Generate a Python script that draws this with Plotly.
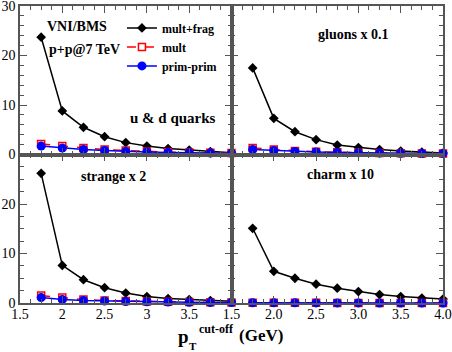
import plotly.graph_objects as go
from plotly.subplots import make_subplots

pt = [1.75, 2.0, 2.25, 2.5, 2.75, 3.0, 3.25, 3.5, 3.75, 4.0]

ud_multfrag = [23.7, 8.8, 5.5, 3.6, 2.4, 1.7, 1.2, 0.9, 0.6, 0.35]
ud_mult = [2.1, 1.7, 1.3, 1.0, 0.8, 0.6, 0.5, 0.4, 0.35, 0.3]
ud_prim = [1.7, 1.3, 1.0, 0.8, 0.6, 0.5, 0.4, 0.35, 0.3, 0.25]

gl_multfrag = [17.5, 7.3, 4.6, 3.0, 1.9, 1.4, 1.0, 0.7, 0.5, 0.3]
gl_mult = [1.3, 1.0, 0.7, 0.55, 0.45, 0.35, 0.3, 0.25, 0.2, 0.2]
gl_prim = [1.0, 0.8, 0.6, 0.5, 0.4, 0.35, 0.3, 0.25, 0.2, 0.2]

st_multfrag = [26.2, 7.6, 4.7, 3.1, 2.0, 1.3, 0.9, 0.7, 0.5, 0.35]
st_mult = [1.5, 1.1, 0.7, 0.5, 0.4, 0.3, 0.25, 0.2, 0.15, 0.1]
st_prim = [1.1, 0.7, 0.5, 0.4, 0.3, 0.25, 0.2, 0.15, 0.1, 0.1]

ch_multfrag = [15.1, 6.4, 5.0, 3.8, 3.0, 2.3, 1.7, 1.3, 1.0, 0.8]
ch_mult = [0.05, 0.04, 0.03, 0.03, 0.02, 0.02, 0.02, 0.01, 0.01, 0.01]
ch_prim = [0.04, 0.03, 0.03, 0.02, 0.02, 0.02, 0.01, 0.01, 0.01, 0.01]

panel_labels = ["u & d quarks", "gluons x 0.1", "strange x 2", "charm x 10"]
series_names = ["mult+frag", "mult", "prim-prim"]

left_xticks = [1.5, 2.0, 2.5, 3.0, 3.5]
left_xticktext = ["1.5", "2", "2.5", "3", "3.5"]
right_xticks = [1.5, 2.0, 2.5, 3.0, 3.5, 4.0]
right_xticktext = ["1.5", "2.0", "2.5", "3.0", "3.5", "4.0"]
top_yticks = [0, 10, 20, 30]
bottom_yticks = [0, 10, 20]

SERIF = "Liberation Serif, Times New Roman, serif"

fig = make_subplots(rows=2, cols=2, horizontal_spacing=0, vertical_spacing=0)

panels = [
    (1, 1, ud_multfrag, ud_mult, ud_prim),
    (1, 2, gl_multfrag, gl_mult, gl_prim),
    (2, 1, st_multfrag, st_mult, st_prim),
    (2, 2, ch_multfrag, ch_mult, ch_prim),
]

for i, (r, c, mf, m, pp) in enumerate(panels):
    show = (i == 0)
    fig.add_trace(go.Scatter(x=pt, y=mf, mode="lines+markers", name="<b>" + series_names[0] + "</b>",
                             line=dict(color="black", width=1.5),
                             marker=dict(symbol="diamond", size=7.5, color="black"),
                             showlegend=show, cliponaxis=False), row=r, col=c)
    fig.add_trace(go.Scatter(x=pt, y=m, mode="lines+markers", name="<b>" + series_names[1] + "</b>",
                             line=dict(color="red", width=1.5, dash="dash"),
                             marker=dict(symbol="square-open", size=7, color="red", line=dict(width=1.5)),
                             showlegend=show, cliponaxis=False), row=r, col=c)
    fig.add_trace(go.Scatter(x=pt, y=pp, mode="lines+markers", name="<b>" + series_names[2] + "</b>",
                             line=dict(color="blue", width=1.5),
                             marker=dict(symbol="circle", size=9, color="blue"),
                             showlegend=show, cliponaxis=False), row=r, col=c)

axis_common = dict(showgrid=False, zeroline=False, showline=True, linecolor="#555", linewidth=1.5,
                   mirror="allticks", ticks="inside", ticklen=7, tickcolor="#555", tickwidth=1,
                   automargin=False, ticklabeloverflow="allow",
                   tickfont=dict(family=SERIF, size=14, color="black"))

for r in (1, 2):
    for c in (1, 2):
        xa = dict(axis_common, range=[1.5, 4.0],
                  minor=dict(ticks="inside", ticklen=4, dtick=0.125, tick0=1.5, tickcolor="#555"))
        if r == 2:
            if c == 1:
                xa.update(tickmode="array", tickvals=left_xticks, ticktext=left_xticktext, showticklabels=True)
            else:
                xa.update(tickmode="array", tickvals=right_xticks, ticktext=right_xticktext, showticklabels=True)
            xa.update(ticklabelstandoff=-3)
        else:
            xa.update(tickmode="array", tickvals=right_xticks, showticklabels=False)
        fig.update_xaxes(xa, row=r, col=c)
        ya = dict(axis_common, range=[0, 30], tickmode="array",
                  tickvals=(top_yticks if r == 1 else bottom_yticks),
                  minor=dict(ticks="inside", ticklen=4, dtick=(2 if r == 1 else 2.5), tick0=0, tickcolor="#555"),
                  showticklabels=(c == 1))
        fig.update_yaxes(ya, row=r, col=c)

# panel texts
def panel_text(txt, ax, x, y, size=14):
    fig.add_annotation(text="<b>" + txt + "</b>", xref=ax[0] + " domain", yref=ax[1] + " domain",
                       x=x, y=y, xanchor="center", yanchor="middle", showarrow=False,
                       font=dict(family=SERIF, size=size, color="black"))

panel_text("VNI/BMS", ("x", "y"), 0.268, 0.865)
panel_text("p+p@7 TeV", ("x", "y"), 0.306, 0.71)
panel_text(panel_labels[0], ("x", "y"), 0.722, 0.246, 15)
panel_text(panel_labels[1], ("x2", "y2"), 0.576, 0.805)
panel_text(panel_labels[2], ("x3", "y3"), 0.442, 0.855)
panel_text(panel_labels[3], ("x4", "y4"), 0.515, 0.862)

# x-axis title
fig.add_annotation(text="<b>p</b>", xref="paper", yref="paper", x=0.3865, y=-0.112, xanchor="center", yanchor="middle",
                   showarrow=False, font=dict(family=SERIF, size=19, color="black"))
fig.add_annotation(text="<b>T</b>", xref="paper", yref="paper", x=0.409, y=-0.145, xanchor="center", yanchor="middle",
                   showarrow=False, font=dict(family=SERIF, size=11, color="black"))
fig.add_annotation(text="<b>cut-off</b>", xref="paper", yref="paper", x=0.4196, y=-0.086, xanchor="left", yanchor="middle",
                   showarrow=False, font=dict(family=SERIF, size=12, color="black"))
fig.add_annotation(text="<b>(GeV)</b>", xref="paper", yref="paper", x=0.514, y=-0.111, xanchor="left", yanchor="middle",
                   showarrow=False, font=dict(family=SERIF, size=17, color="black"))

fig.update_layout(
    width=452, height=352,
    margin=dict(l=20, r=9, t=6, b=49),
    paper_bgcolor="white", plot_bgcolor="white",
    showlegend=True,
    legend=dict(x=0.241, y=0.975, xanchor="left", yanchor="top", bgcolor="rgba(0,0,0,0)",
                font=dict(family=SERIF, size=12, color="black"), itemwidth=30, tracegroupgap=0),
)

fig.write_html("out.html", config={"displayModeBar": False},
               post_script="document.body.style.margin='0';document.body.style.padding='0';")
